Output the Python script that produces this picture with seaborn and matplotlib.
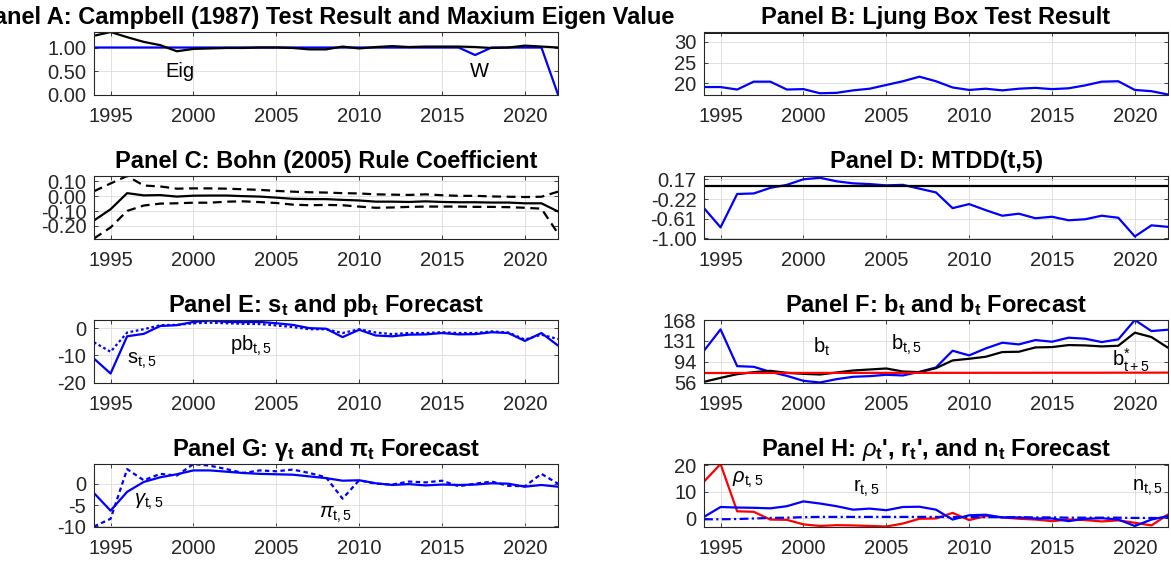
import matplotlib
matplotlib.use("Agg")
import matplotlib.pyplot as plt
import matplotlib.ticker as mticker
import numpy as np
import pandas as pd
import seaborn as sns

YEARS = list(range(1994, 2023))

# Panel A: Campbell (1987) test result and maximum eigenvalue
EIG = [1.25, 1.33, 1.22, 1.12, 1.05, 0.92, 0.97, 0.98, 0.99, 0.99, 1.00, 1.00, 0.99, 0.96,
       0.96, 1.02, 0.98, 1.01, 1.03, 1.01, 1.02, 1.02, 1.02, 1.01, 0.99, 1.00, 1.04, 1.02, 1.00]
W_TEST = [1.00, 1.00, 1.00, 1.00, 1.00, 1.00, 1.00, 1.00, 1.00, 1.00, 1.00, 1.00, 1.00, 1.00,
          1.00, 1.00, 1.00, 1.00, 1.00, 1.00, 1.00, 1.00, 1.00, 0.84, 1.00, 1.00, 1.00, 1.00, 0.00]

# Panel B: Ljung-Box statistic and critical value
LJUNG_BOX = [19.1, 19.1, 18.5, 20.4, 20.4, 18.5, 18.6, 17.6, 17.7, 18.3, 18.7, 19.6, 20.5, 21.6,
             20.5, 19.0, 18.4, 18.7, 18.3, 18.7, 18.9, 18.6, 18.8, 19.5, 20.4, 20.5, 18.4, 18.1, 17.3]
LB_CRITICAL = 32.4

# Panel C: Bohn (2005) rule coefficient with confidence band
BOHN_COEF = [-0.163, -0.088, 0.020, 0.005, 0.007, -0.003, 0.003, 0.004, 0.004, 0.000, -0.003,
             -0.010, -0.018, -0.020, -0.020, -0.025, -0.029, -0.037, -0.037, -0.039, -0.035,
             -0.039, -0.041, -0.041, -0.043, -0.043, -0.048, -0.048, -0.103]
BOHN_UPPER = [0.033, 0.085, 0.135, 0.071, 0.065, 0.050, 0.052, 0.052, 0.050, 0.046, 0.042,
              0.035, 0.030, 0.026, 0.024, 0.020, 0.018, 0.012, 0.010, 0.008, 0.012, 0.006,
              0.002, 0.002, -0.002, -0.004, -0.006, -0.004, 0.030]
BOHN_LOWER = [-0.284, -0.210, -0.099, -0.063, -0.050, -0.048, -0.044, -0.044, -0.037, -0.035,
              -0.040, -0.046, -0.057, -0.061, -0.059, -0.061, -0.070, -0.078, -0.076, -0.072,
              -0.070, -0.070, -0.070, -0.072, -0.072, -0.074, -0.078, -0.084, -0.250]

# Panel D: MTDD(t,5)
MTDD = [-0.40, -0.78, -0.12, -0.11, 0.00, 0.06, 0.17, 0.20, 0.13, 0.09, 0.075, 0.05, 0.06,
        -0.015, -0.09, -0.40, -0.32, -0.44, -0.55, -0.51, -0.60, -0.57, -0.64, -0.62, -0.55,
        -0.59, -0.96, -0.74, -0.77]
MTDD_REF = 0.04

# Panel E: surplus and primary balance forecasts
S_T5 = [-11.2, -16.7, -3.0, -2.1, 0.8, 1.1, 2.3, 2.8, 2.3, 2.2, 2.3, 1.8, 1.2, 0.0, -0.2, -3.3,
        -0.6, -2.7, -3.0, -2.4, -2.3, -1.8, -2.3, -2.2, -1.5, -1.8, -4.7, -1.8, -6.4]
PB_T5 = [-5.2, -8.7, -1.6, -0.4, 1.1, 1.2, 1.8, 2.0, 1.8, 1.6, 1.5, 1.0, 0.4, -0.4, -0.4, -1.8,
         -0.4, -1.6, -2.2, -1.8, -1.8, -1.5, -1.8, -1.8, -1.2, -1.6, -4.2, -2.4, -4.0]

# Panel F: debt, debt forecast and target debt
B_T5 = [113.2, 151.4, 85.6, 84.4, 75.4, 68.2, 59.3, 56.3, 62.3, 66.5, 67.7, 70.1, 68.9, 75.4,
        83.2, 113.2, 104.8, 117.3, 127.5, 124.5, 132.3, 129.3, 136.5, 134.7, 128.7, 133.5,
        168.2, 148.4, 150.8]
B_T = [57.5, 64.6, 71.2, 74.8, 77.2, 73.6, 71.8, 70.6, 74.2, 77.8, 79.6, 81.4, 76.0, 74.8, 82.0,
       95.8, 98.8, 102.4, 110.8, 111.4, 119.1, 119.7, 123.3, 122.7, 120.9, 122.1, 145.5, 137.7,
       118.5]
B_STAR = [73.3, 73.3, 73.3, 73.4, 73.4, 73.4, 73.4, 73.5, 73.5, 73.5, 73.5, 73.5, 73.6, 73.6,
          73.6, 73.6, 73.6, 73.7, 73.7, 73.7, 73.7, 73.8, 73.8, 73.8, 73.8, 73.9, 73.9, 73.9, 74.0]

# Panel G: growth and inflation forecasts
GAMMA_T5 = [-2.2, -6.3, -1.9, 0.4, 1.5, 2.2, 3.1, 3.1, 2.8, 2.5, 2.3, 2.2, 2.1, 1.7, 1.3, 0.7,
            0.8, 0.1, -0.3, -0.1, -0.4, -0.2, -0.3, -0.2, 0.1, 0.0, -0.7, -0.3, -0.7]
PI_T5 = [-10.0, -8.2, 3.4, 0.8, 2.3, 1.9, 4.6, 4.2, 3.4, 2.5, 3.1, 2.9, 3.3, 2.5, 1.5, -3.5,
         0.8, 0.0, -0.2, 0.5, 0.3, 0.7, -0.6, 0.0, 0.5, -0.5, -0.6, 2.3, 0.0]

# Panel H: rho, real rate and nominal rate forecasts
RHO_T5 = [13.8, 20.4, 2.7, 2.5, -0.4, -0.5, -2.2, -2.8, -2.5, -2.6, -2.8, -3.0, -1.9, -0.1, 0.0,
          2.1, -0.6, 0.9, 0.4, -0.1, -0.4, -1.0, -0.4, -0.6, -1.1, -0.7, -1.6, -2.6, 1.5]
R_T5 = [0.6, 4.3, 4.1, 4.0, 3.8, 4.6, 6.4, 5.6, 4.6, 3.3, 3.7, 3.1, 4.3, 4.4, 3.3, -0.4, 1.2,
        1.4, 0.4, 0.4, 0.0, 0.0, -1.0, -0.1, 0.1, -0.4, -2.8, -0.4, 0.9]
N_T5 = [-0.3, -0.3, -0.2, 0.0, 0.2, 0.3, 0.5, 0.6, 0.6, 0.6, 0.6, 0.6, 0.6, 0.6, 0.6, 0.5, 0.5,
        0.5, 0.5, 0.5, 0.4, 0.4, 0.3, 0.3, 0.3, 0.3, 0.2, 0.2, 0.2]

XTICKS = [1995, 2000, 2005, 2010, 2015, 2020]

sns.set_theme(style="ticks")
plt.rcParams.update({
    "font.family": ["Liberation Sans", "DejaVu Sans"],
    "mathtext.fontset": "custom",
    "mathtext.rm": "Liberation Sans",
    "mathtext.it": "Liberation Sans:italic",
    "mathtext.bf": "Liberation Sans:bold",
    "axes.unicode_minus": False,
})

TICK_SIZE = 14.5
TITLE_SIZE = 17
LABEL_SIZE = 14.5
DARK = "#262626"
BLUE = "#0000ff"
RED = "#ff0000"

W_PX, H_PX = 1171, 566
fig = plt.figure(figsize=(W_PX / 100, H_PX / 100), dpi=100)

col_left = [94, 704]
row_top = [32, 176, 320, 464]
ax_w, ax_h = 464, 62.5


def make_axes(row, col):
    x0 = col_left[col] / W_PX
    y0 = 1 - (row_top[row] + ax_h) / H_PX
    return fig.add_axes([x0, y0, ax_w / W_PX, ax_h / H_PX])


def style_axes(ax, title, ylim, yticks, fmt):
    ax.set_xlim(1994, 2022)
    ax.set_ylim(*ylim)
    ax.set_xticks(XTICKS)
    ax.set_yticks(yticks)
    ax.yaxis.set_major_formatter(mticker.FormatStrFormatter(fmt))
    ax.xaxis.set_major_formatter(mticker.FormatStrFormatter("%d"))
    ax.grid(True, color="#dcdcdc", linewidth=0.6)
    ax.set_axisbelow(True)
    for sp in ax.spines.values():
        sp.set_visible(True)
        sp.set_color(DARK)
        sp.set_linewidth(0.8)
    ax.tick_params(direction="in", length=3, width=0.6, colors=DARK,
                   labelsize=TICK_SIZE, top=True, right=True)
    ax.tick_params(axis="x", pad=9)
    ax.tick_params(axis="y", pad=5.5)
    ax.set_xlabel("")
    ax.set_ylabel("")
    ax.set_title(title, fontsize=TITLE_SIZE, fontweight="bold", color="black", pad=6)


def line(ax, values, color, ls="-", lw=1.6):
    df = pd.DataFrame({"year": YEARS, "value": values})
    sns.lineplot(data=df, x="year", y="value", ax=ax, color=color,
                 linestyle=ls, linewidth=lw, legend=False)


def label(ax, x, y, text):
    ax.text(x, y, text, fontsize=LABEL_SIZE, color="black", ha="left", va="center")


# Panel A
ax = make_axes(0, 0)
line(ax, W_TEST, BLUE)
line(ax, EIG, "black")
label(ax, 1998.3, 0.50, "Eig")
label(ax, 2016.7, 0.48, "W")
style_axes(ax, "Panel A: Campbell (1987) Test Result and Maxium Eigen Value",
           (0, 1.33), [0, 0.5, 1.0], "%.2f")

# Panel B
ax = make_axes(0, 1)
line(ax, LJUNG_BOX, BLUE)
ax.axhline(LB_CRITICAL, color="black", linewidth=2.0)
style_axes(ax, "Panel B: Ljung Box Test Result", (17.3, LB_CRITICAL), [20, 25, 30], "%d")

# Panel C
ax = make_axes(1, 0)
line(ax, BOHN_COEF, "black")
line(ax, BOHN_UPPER, "black", ls=(0, (4, 2.5)))
line(ax, BOHN_LOWER, "black", ls=(0, (4, 2.5)))
style_axes(ax, "Panel C: Bohn (2005) Rule Coefficient",
           (-0.284, 0.135), [-0.2, -0.1, 0.0, 0.1], "%.2f")

# Panel D
ax = make_axes(1, 1)
line(ax, MTDD, BLUE)
ax.axhline(MTDD_REF, color="black", linewidth=1.6)
style_axes(ax, "Panel D: MTDD(t,5)", (-1.0, 0.235), [-1.0, -0.61, -0.22, 0.17], "%.2f")

# Panel E
ax = make_axes(2, 0)
line(ax, S_T5, BLUE)
line(ax, PB_T5, BLUE, ls=(0, (1.2, 1.2)))
label(ax, 1996.0, -12.2, r"$\mathrm{s}_{\mathrm{t,5}}$")
label(ax, 2002.2, -6.4, r"$\mathrm{pb}_{\mathrm{t,5}}$")
style_axes(ax, r"Panel E: $\mathbf{s_t}$ and $\mathbf{pb_t}$ Forecast",
           (-20, 3), [-20, -10, 0], "%d")

# Panel F
ax = make_axes(2, 1)
line(ax, B_T5, BLUE)
line(ax, B_T, "black")
line(ax, B_STAR, RED)
label(ax, 2000.6, 120, r"$\mathrm{b}_{\mathrm{t}}$")
label(ax, 2005.3, 123, r"$\mathrm{b}_{\mathrm{t,5}}$")
label(ax, 2018.6, 96, r"$\mathrm{b}^{*}_{\mathrm{t+5}}$")
style_axes(ax, r"Panel F: $\mathbf{b_t}$ and $\mathbf{b_t}$ Forecast",
           (56.3, 168.2), list(np.linspace(56.3, 168.2, 4)), "%.0f")

# Panel G
ax = make_axes(3, 0)
line(ax, GAMMA_T5, BLUE)
line(ax, PI_T5, BLUE, ls=(0, (2, 1.5)))
label(ax, 1996.4, -4.2, r"$\gamma_{\mathrm{t,5}}$")
label(ax, 2007.6, -7.3, r"$\pi_{\mathrm{t,5}}$")
style_axes(ax, r"Panel G: $\mathbf{\gamma_t}$ and $\mathbf{\pi_t}$ Forecast",
           (-10, 4.6), [-10, -5, 0], "%d")

# Panel H
ax = make_axes(3, 1)
line(ax, RHO_T5, RED)
line(ax, R_T5, BLUE)
line(ax, N_T5, BLUE, ls=(0, (4, 1.5, 1, 1.5)))
label(ax, 1995.7, 14.3, r"$\rho_{\mathrm{t,5}}$")
label(ax, 2003.0, 11.3, r"$\mathrm{r}_{\mathrm{t,5}}$")
label(ax, 2019.8, 11.3, r"$\mathrm{n}_{\mathrm{t,5}}$")
style_axes(ax, r"Panel H: $\rho_\mathbf{t}$', $\mathbf{r_t}$', and $\mathbf{n_t}$ Forecast",
           (-3.0, 20.4), [0, 10, 20], "%d")

fig.savefig("out.png", dpi=100)
